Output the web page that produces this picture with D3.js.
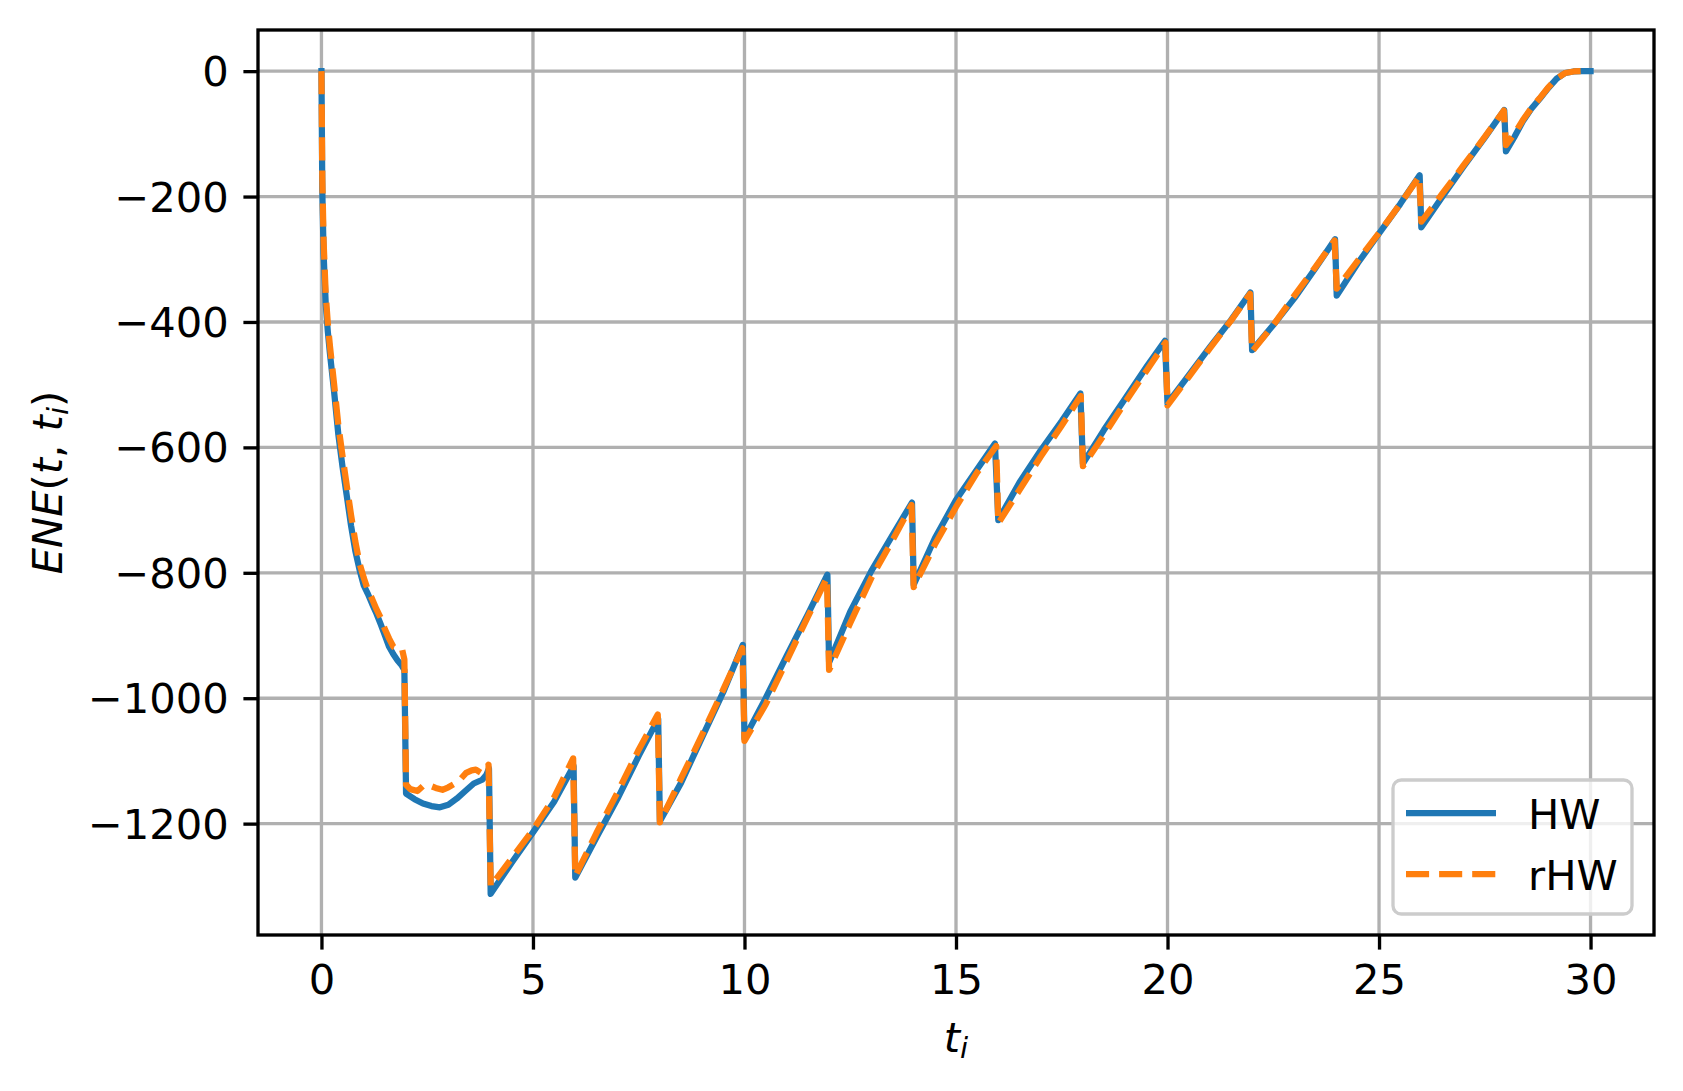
<!DOCTYPE html>
<html lang="en">
<head>
  <meta charset="UTF-8">
  <title>ENE HW vs rHW</title>
  <script src="https://cdn.jsdelivr.net/npm/d3@7"></script>
  <style>
    body { margin: 0; background: #fff; }
    text { font-family: "DejaVu Sans", sans-serif; }
  </style>
</head>
<body>
<svg></svg>
<script>
  // HW exposure profile
  const tHW = [0, 0.02, 0.05, 0.1, 0.15, 0.2, 0.3, 0.4, 0.5, 0.6, 0.7, 0.8, 0.9, 1.0, 1.1, 1.2, 1.3, 1.4, 1.5, 1.6, 1.7, 1.8, 1.9, 1.96,
    2.0, 2.2, 2.4, 2.6, 2.8, 3.0, 3.2, 3.4, 3.6, 3.8, 3.9, 3.96,
    4.0, 4.5, 5.0, 5.5, 5.96,
    6.0, 6.5, 7.0, 7.5, 7.96,
    8.0, 8.5, 9.0, 9.5, 9.96,
    10.0, 10.5, 11.0, 11.5, 11.96,
    12.0, 12.5, 13.0, 13.5, 13.96,
    14.0, 14.5, 15.0, 15.5, 15.92,
    16.0, 16.5, 17.0, 17.5, 17.94,
    18.0, 18.5, 19.0, 19.5, 19.94,
    20.0, 20.5, 21.0, 21.5, 21.96,
    22.0, 22.5, 23.0, 23.5, 23.96,
    24.0, 24.5, 25.0, 25.5, 25.96,
    26.0, 26.5, 27.0, 27.5, 27.96,
    28.0, 28.2, 28.4, 28.6, 28.8, 29.0, 29.2, 29.4, 29.6, 29.8, 30.0]
  const hwValues = [0, -190, -290, -370, -415, -450, -512, -580, -632, -678, -725, -765, -795, -820, -834, -850, -865, -882, -900, -918, -930, -940, -948, -955,
    -1152, -1161, -1168, -1172, -1174, -1170, -1160, -1148, -1136, -1130, -1122, -1112,
    -1312, -1262, -1214, -1165, -1108,
    -1286, -1222, -1160, -1092, -1033,
    -1196, -1135, -1062, -990, -915,
    -1064, -1000, -932, -866, -803,
    -943, -862, -797, -740, -688,
    -819, -745, -684, -635, -594,
    -716, -656, -605, -558, -514,
    -626, -572, -522, -472, -430,
    -530, -485, -440, -397, -353,
    -445, -405, -362, -314, -268,
    -358, -306, -259, -212, -166,
    -249, -200, -152, -106, -62,
    -128, -105, -80, -60, -44, -27, -12, -3, -0.5, 0, 0]

  // rHW exposure profile
  const tRHW = [0, 0.02, 0.05, 0.1, 0.15, 0.2, 0.3, 0.4, 0.5, 0.6, 0.7, 0.8, 0.9, 1.0, 1.1, 1.2, 1.3, 1.4, 1.5, 1.6, 1.7, 1.8, 1.9, 1.96,
    2.0, 2.1, 2.27, 2.4, 2.51, 2.7, 2.86, 3.0, 3.18, 3.3, 3.42, 3.55, 3.65, 3.77, 3.85, 3.95,
    4.0, 4.5, 5.0, 5.5, 5.95,
    6.0, 6.5, 7.0, 7.5, 7.95,
    8.0, 8.5, 9.0, 9.5, 9.95,
    10.0, 10.5, 11.0, 11.5, 11.95,
    12.0, 12.5, 13.0, 13.5, 13.95,
    14.0, 14.5, 15.0, 15.5, 15.95,
    16.0, 16.5, 17.0, 17.5, 17.95,
    18.0, 18.5, 19.0, 19.5, 19.95,
    20.0, 20.5, 21.0, 21.5, 21.95,
    22.0, 22.5, 23.0, 23.5, 23.95,
    24.0, 24.5, 25.0, 25.5, 25.95,
    26.0, 26.5, 27.0, 27.5, 27.95,
    28.0, 28.2, 28.4, 28.6, 28.8, 29.0, 29.2, 29.4, 29.6, 29.8, 30.0]
  const rhwValues = [0, -170, -270, -355, -402, -438, -500, -565, -615, -662, -708, -750, -785, -808, -828, -842, -858, -872, -890, -905, -918, -921, -920, -938,
    -1138, -1145, -1148, -1140, -1138, -1143, -1146, -1142, -1135, -1128, -1119, -1115, -1114, -1119, -1115, -1106,
    -1300, -1255, -1210, -1158, -1096,
    -1284, -1215, -1150, -1082, -1026,
    -1198, -1128, -1058, -986, -920,
    -1068, -1010, -940, -870, -808,
    -955, -880, -808, -748, -692,
    -823, -755, -695, -640, -598,
    -721, -668, -615, -565, -518,
    -630, -580, -528, -478, -433,
    -533, -488, -442, -398, -355,
    -447, -405, -358, -312, -270,
    -347, -302, -258, -212, -168,
    -240, -195, -150, -105, -63,
    -118, -100, -78, -59, -43, -26, -12, -3, -0.5, 0, 0]

  const xTicks = [0, 5, 10, 15, 20, 25, 30]
  const yTicks = [0, -200, -400, -600, -800, -1000, -1200]
  const seriesNames = ["HW", "rHW"]

  const width = 1683, height = 1091
  const margin = ({top: 30, right: 29, bottom: 156, left: 258})
  const fontSize = 41.67
  const lw = 6.25

  const hw = tHW.map((t, i) => [t, hwValues[i]])
  const rhw = tRHW.map((t, i) => [t, rhwValues[i]])

  const svg = d3.select('svg')
      .attr('width', width)
      .attr('height', height)
      .attr('viewBox', [0, 0, width, height])

  // matplotlib style 5% margins
  const xExt = d3.extent(tHW.concat(tRHW))
  const yExt = d3.extent(hwValues.concat(rhwValues))
  const xPad = (xExt[1] - xExt[0]) * 0.05, yPad = (yExt[1] - yExt[0]) * 0.05

  const x = d3.scaleLinear()
      .domain([xExt[0] - xPad, xExt[1] + xPad])
      .range([margin.left, width - margin.right])

  const y = d3.scaleLinear()
      .domain([yExt[0] - yPad, yExt[1] + yPad])
      .range([height - margin.bottom, margin.top])

  // grid
  svg.append("g")
      .attr("stroke", "#b0b0b0")
      .attr("stroke-width", 3.33)
      .call(g => g.selectAll(".vx").data(xTicks).join("line")
          .attr("x1", d => x(d)).attr("x2", d => x(d))
          .attr("y1", margin.top).attr("y2", height - margin.bottom))
      .call(g => g.selectAll(".hy").data(yTicks).join("line")
          .attr("x1", margin.left).attr("x2", width - margin.right)
          .attr("y1", d => y(d)).attr("y2", d => y(d)))

  svg.append("clipPath")
      .attr("id", "clip")
      .append("rect")
      .attr("x", margin.left)
      .attr("y", margin.top)
      .attr("width", width - margin.left - margin.right)
      .attr("height", height - margin.top - margin.bottom)

  const line = d3.line()
      .x(d => x(d[0]))
      .y(d => y(d[1]))

  const plot = svg.append("g").attr("clip-path", "url(#clip)")

  plot.append("path")
      .datum(hw)
      .attr("fill", "none")
      .attr("stroke", "#1f77b4")
      .attr("stroke-width", lw)
      .attr("stroke-linejoin", "round")
      .attr("stroke-linecap", "square")
      .attr("d", line)

  plot.append("path")
      .datum(rhw)
      .attr("fill", "none")
      .attr("stroke", "#ff7f0e")
      .attr("stroke-width", lw)
      .attr("stroke-linejoin", "round")
      .attr("stroke-dasharray", "23.1,10")
      .attr("d", line)

  // axes
  const fmt = d3.format("d")

  const xAxis = g => g
      .attr("transform", `translate(0,${height - margin.bottom})`)
      .call(d3.axisBottom(x).tickValues(xTicks).tickFormat(fmt).tickSize(14.6).tickPadding(14.6))
      .call(g => g.select(".domain").remove())

  const yAxis = g => g
      .attr("transform", `translate(${margin.left},0)`)
      .call(d3.axisLeft(y).tickValues(yTicks).tickFormat(fmt).tickSize(14.6).tickPadding(14.6))
      .call(g => g.select(".domain").remove())
      .call(g => g.selectAll(".tick text").attr("dy", "0.35em"))

  svg.append("g").call(xAxis)
  svg.append("g").call(yAxis)

  svg.selectAll(".tick line").attr("stroke", "#000").attr("stroke-width", 3.33)
  svg.selectAll(".tick text")
      .attr("fill", "#000")
      .style("font-size", fontSize + "px")
      .style("font-family", "DejaVu Sans")

  // spines
  svg.append("rect")
      .attr("x", margin.left)
      .attr("y", margin.top)
      .attr("width", width - margin.left - margin.right)
      .attr("height", height - margin.top - margin.bottom)
      .attr("fill", "none")
      .attr("stroke", "#000")
      .attr("stroke-width", 3.33)

  // axis labels
  const xl = svg.append("text")
      .attr("x", (margin.left + width - margin.right) / 2)
      .attr("y", 1052)
      .attr("text-anchor", "middle")
      .style("font-size", fontSize + "px")
  xl.append("tspan").attr("font-style", "italic").text("t")
  xl.append("tspan").attr("font-style", "italic").attr("dy", 6).style("font-size", (fontSize * 0.7) + "px").text("i")

  const yl = svg.append("text")
      .attr("transform", `translate(62,${(margin.top + height - margin.bottom) / 2}) rotate(-90)`)
      .attr("text-anchor", "middle")
      .style("font-size", fontSize + "px")
  yl.append("tspan").attr("font-style", "italic").text("ENE")
  yl.append("tspan").text("(")
  yl.append("tspan").attr("font-style", "italic").text("t")
  yl.append("tspan").text(", ")
  yl.append("tspan").attr("font-style", "italic").text("t")
  yl.append("tspan").attr("font-style", "italic").attr("dy", 6).style("font-size", (fontSize * 0.7) + "px").text("i")
  yl.append("tspan").attr("dy", -6).text(")")

  // legend
  const legend = svg.append("g")
  legend.append("rect")
      .attr("x", 1393).attr("y", 780)
      .attr("width", 239).attr("height", 134)
      .attr("rx", 8.3)
      .attr("fill", "#fff").attr("fill-opacity", 0.8)
      .attr("stroke", "#cccccc").attr("stroke-width", 3.33)

  const styles = [{color: "#1f77b4", dash: null}, {color: "#ff7f0e", dash: "23.1,10"}]
  seriesNames.forEach((name, i) => {
    const cy = 813 + i * 61
    legend.append("line")
        .attr("x1", 1406).attr("x2", 1496)
        .attr("y1", cy).attr("y2", cy)
        .attr("stroke", styles[i].color)
        .attr("stroke-width", lw)
        .attr("stroke-dasharray", styles[i].dash)
    legend.append("text")
        .attr("x", 1528).attr("y", cy + 16)
        .style("font-size", fontSize + "px")
        .text(name)
  })
</script>
</body>
</html>
